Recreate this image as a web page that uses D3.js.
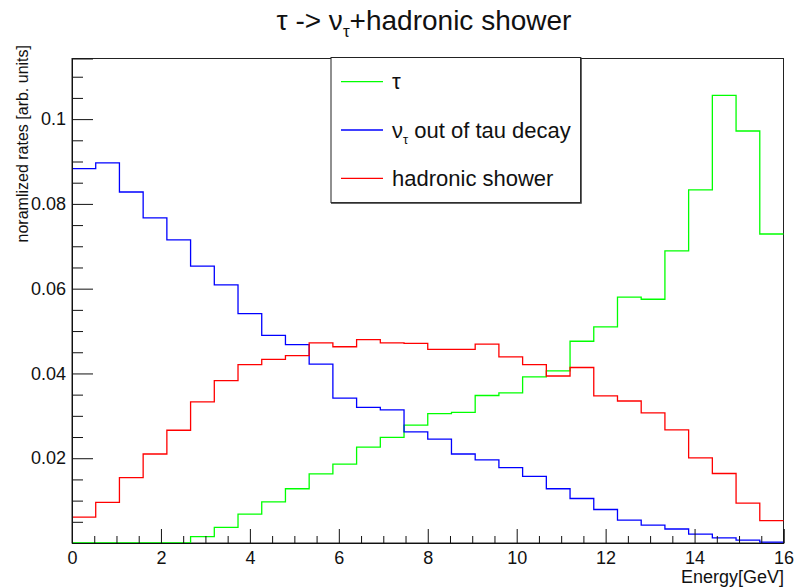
<!DOCTYPE html>
<html>
<head>
<meta charset="utf-8">
<script src="https://cdn.jsdelivr.net/npm/d3@7"></script>
<style>
  html, body { margin: 0; padding: 0; background: #fff; }
  svg { display: block; font-family: "Liberation Sans", Arial, Helvetica, sans-serif; }
</style>
</head>
<body>
<svg id="chart" width="794" height="587"></svg>
<script>
// ---- data ----
const nBins = 30;
const xDomain = [0, 16];
const yDomain = [0, 0.1143];
const tauValues = [0, 0, 0, 0, 0, 0.0015, 0.0037, 0.0068, 0.0097, 0.0128,
  0.0163, 0.0186, 0.0226, 0.0249, 0.0278, 0.0305, 0.0308, 0.0348, 0.0354, 0.0392,
  0.0406, 0.0476, 0.0510, 0.0580, 0.0575, 0.0689, 0.0833, 0.1056, 0.0972, 0.0729];
const nuValues = [0.0883, 0.0897, 0.0828, 0.0767, 0.0715, 0.0653, 0.0609, 0.0541, 0.0490, 0.0468,
  0.0422, 0.0342, 0.0320, 0.0314, 0.0262, 0.0245, 0.0210, 0.0196, 0.0178, 0.0157,
  0.0128, 0.0105, 0.0079, 0.0054, 0.0042, 0.0033, 0.0021, 0.0012, 0.0007, 0.0002];
const showerValues = [0.0061, 0.0096, 0.0154, 0.0210, 0.0266, 0.0333, 0.0383, 0.0421, 0.0433, 0.0442,
  0.0472, 0.0463, 0.0480, 0.0472, 0.0471, 0.0457, 0.0457, 0.0469, 0.0439, 0.0421,
  0.0394, 0.0414, 0.0347, 0.0335, 0.0307, 0.0267, 0.0201, 0.0164, 0.0094, 0.0053];
const xMajorTicks = [0, 2, 4, 6, 8, 10, 12, 14, 16];
const yMajorTicks = [0.02, 0.04, 0.06, 0.08, 0.1];
const yTickLabels = ["0.02", "0.04", "0.06", "0.08", "0.1"];
const seriesNames = ["τ", "ν", "hadronic shower"];

// ---- layout ----
const L = 72, R = 783.5, T = 58.5, B = 543;
const svg = d3.select("#chart");
const x = d3.scaleLinear().domain(xDomain).range([L, R]);
const y = d3.scaleLinear().domain(yDomain).range([B, T]);
const binW = (xDomain[1] - xDomain[0]) / nBins;

// frame
svg.append("rect").attr("x", L).attr("y", T).attr("width", R - L).attr("height", B - T)
  .attr("fill", "none").attr("stroke", "#222").attr("stroke-width", 1);

// histograms
const line = d3.line().x(d => x(d[0])).y(d => y(d[1])).curve(d3.curveStepAfter);
function histPath(vals) {
  const pts = vals.map((v, i) => [xDomain[0] + i * binW, v]);
  pts.push([xDomain[1], vals[vals.length - 1]]);
  return line(pts);
}
const series = [
  {vals: tauValues, color: "#00ff00"},
  {vals: nuValues, color: "#0000ff"},
  {vals: showerValues, color: "#ff0000"}
];
series.forEach(s => {
  svg.append("path").attr("d", histPath(s.vals)).attr("fill", "none")
    .attr("stroke", s.color).attr("stroke-width", 1.3);
});

// axes
const yMinor = d3.range(0.005, yDomain[1], 0.005).filter(v => Math.abs(v / 0.02 - Math.round(v / 0.02)) > 1e-6);
svg.append("g").attr("transform", `translate(${L},0)`)
  .call(d3.axisLeft(y).tickValues(yMinor).tickSize(-11).tickFormat(""))
  .call(g => g.select(".domain").remove());
svg.append("g").attr("transform", `translate(${L},0)`)
  .call(d3.axisLeft(y).tickValues(yMajorTicks).tickSize(-21).tickPadding(6)
    .tickFormat((d, i) => yTickLabels[i]))
  .call(g => g.select(".domain").attr("stroke", "#111"))
  .call(g => g.selectAll("text").attr("font-size", 18).attr("fill", "#111")
    .attr("font-family", "Liberation Sans, Arial, sans-serif"));

const xMinor = d3.range(0.5, 16, 0.5).filter(v => v % 2 !== 0);
svg.append("g").attr("transform", `translate(0,${B})`)
  .call(d3.axisBottom(x).tickValues(xMinor).tickSize(-7).tickFormat(""))
  .call(g => g.select(".domain").remove());
svg.append("g").attr("transform", `translate(0,${B})`)
  .call(d3.axisBottom(x).tickValues(xMajorTicks).tickSize(-14).tickPadding(8).tickFormat(d3.format("d")))
  .call(g => g.select(".domain").attr("stroke", "#111"))
  .call(g => g.selectAll("text").attr("font-size", 18).attr("fill", "#111")
    .attr("font-family", "Liberation Sans, Arial, sans-serif"));
svg.selectAll(".tick line").attr("stroke", "#111");

// axis titles
svg.append("text").attr("x", 784).attr("y", 583).attr("text-anchor", "end")
  .attr("font-size", 18).attr("fill", "#111").text("Energy[GeV]");
svg.append("text").attr("transform", "translate(28,45) rotate(-90)").attr("text-anchor", "end")
  .attr("font-size", 16).attr("fill", "#111").text("noramlized rates [arb. units]");

// title
const title = svg.append("text").attr("x", 424).attr("y", 30).attr("text-anchor", "middle")
  .attr("font-size", 28).attr("fill", "#111");
title.append("tspan").text("τ -> ν");
title.append("tspan").attr("font-size", 17).attr("dy", 7).text("τ");
title.append("tspan").attr("dy", -7).text("+hadronic shower");

// legend
const lg = svg.append("g");
lg.append("rect").attr("x", 331).attr("y", 57.5).attr("width", 249.5).attr("height", 145)
  .attr("fill", "#fff").attr("stroke", "#222").attr("stroke-width", 1);
lg.append("path").attr("d", "M331,203 H581 V57.5").attr("fill", "none").attr("stroke", "#333").attr("stroke-width", 1.5);
const ly = [81.7, 130, 178.3];
series.forEach((s, i) => {
  lg.append("line").attr("x1", 341).attr("x2", 383).attr("y1", ly[i]).attr("y2", ly[i])
    .attr("stroke", s.color).attr("stroke-width", 1.3);
});
lg.append("text").attr("x", 392).attr("y", ly[0] + 7.5).attr("font-size", 22).attr("fill", "#111")
  .text(seriesNames[0]);
const t1 = lg.append("text").attr("x", 392).attr("y", ly[1] + 7.5).attr("font-size", 22).attr("fill", "#111");
t1.append("tspan").text(seriesNames[1]);
t1.append("tspan").attr("font-size", 13).attr("dy", 6).text("τ");
t1.append("tspan").attr("dy", -6).text(" out of tau decay");
lg.append("text").attr("x", 392).attr("y", ly[2] + 7.5).attr("font-size", 22).attr("fill", "#111")
  .text(seriesNames[2]);
</script>
</body>
</html>
